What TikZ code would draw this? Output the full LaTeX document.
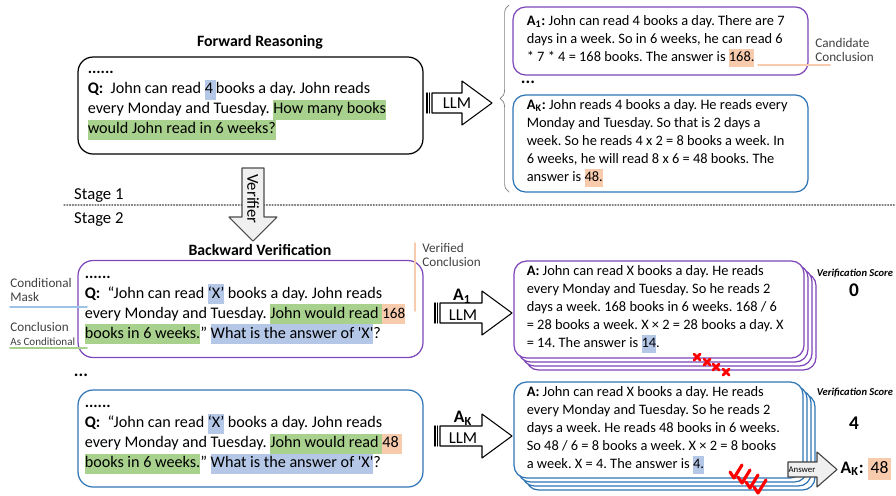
\documentclass[tikz,border=0pt]{standalone}
\usepackage{fontspec}
\setmainfont{Carlito}
\usetikzlibrary{calc,decorations.pathreplacing}
\definecolor{bvpurple}{RGB}{125,70,185}
\definecolor{bvblue}{RGB}{46,117,182}
\definecolor{hlgreen}{RGB}{169,209,142}
\definecolor{hlblue}{RGB}{180,199,231}
\definecolor{hlorange}{RGB}{248,203,173}
\definecolor{lineblue}{RGB}{157,195,230}
\definecolor{lblgray}{RGB}{64,64,64}
\newcommand{\hl}[2]{{\setlength{\fboxsep}{0pt}\colorbox{#1}{\strut #2}}}
\frenchspacing
\tikzset{
  qbox/.style={draw,rounded corners=0.3cm,line width=0.7pt,minimum width=6.9cm,minimum height=1.94cm,inner sep=0pt},
  abox/.style={draw,rounded corners=0.25cm,line width=0.7pt,fill=white,minimum width=5.9cm,inner sep=0pt},
  sbox/.style={abox,minimum width=5.8cm,minimum height=1.94cm},
  qtxt/.style={anchor=west,align=left,inner sep=0pt,font={\frenchspacing\fontsize{9.2}{11.4}\selectfont}},
  atxt/.style={anchor=west,align=left,inner sep=0pt,font={\frenchspacing\fontsize{8.2}{10.2}\selectfont}},
  heading/.style={font={\bfseries\fontsize{9}{11}\selectfont}},
  stage/.style={font={\fontsize{9.5}{11}\selectfont}},
  lbl/.style={text=lblgray,align=left,inner sep=0pt,font={\fontsize{7.5}{8}\selectfont}},
  vscore/.style={font={\bfseries\itshape\fontsize{6}{7}\selectfont}},
  arrtxt/.style={font={\fontsize{9.5}{11}\selectfont}},
  pics/llmarrow/.style={code={
    \draw[line width=0.8pt] (0,-10) -- (0,10) (2.5,-10) -- (2.5,10);
    \draw[fill=white,line width=0.6pt] (5,-10) -- (#1-30,-10) -- (#1-30,-22) -- (#1,0)
      -- (#1-30,22) -- (#1-30,10) -- (5,10) -- cycle;
  }},
}
\begin{document}
\begin{tikzpicture}[x=0.02cm,y=-0.02cm,line join=round,line cap=round]
\useasboundingbox (0,0) rectangle (896,495);
% Stage 1: forward reasoning
\node[heading] (fwdtitle) at (260,42) {Forward Reasoning};
\node[qbox] (fwdq) at (250.5,105.5) {};
\node[qtxt] (fwdqtxt) at ($(fwdq.west)+(10,0)$) {\textbf{......}\\
  \textbf{Q:}\ \ John can read \hl{hlblue}{4\,}books a day. John reads\\
  every Monday and Tuesday. \hl{hlgreen}{How many books}\\
  \hl{hlgreen}{would John read in 6 weeks?}};
\pic at (427,103) {llmarrow=65};
\node[arrtxt] (llmtop) at (457,103) {LLM};
\draw[gray,decorate,decoration={brace,amplitude=5pt}] (509,192) -- (509,5);
\node[abox,draw=bvpurple,minimum height=1.36cm] (ans1) at (660.5,41) {};
\node[atxt] (ans1txt) at ($(ans1.west)+(14,0)$) {\textbf{A\textsubscript{1}:} John can read 4 books a day. There are 7\\
  days in a week. So in 6 weeks, he can read 6\\{}* 7 * 4 = 168 books. The answer is \hl{hlorange}{168.}};
\node[font=\bfseries] (ansdots) at (528,82) {...};
\node[abox,draw=bvblue,minimum height=1.94cm] (ansk) at (660.5,143.5) {};
\node[atxt] (anskttxt) at ($(ansk.west)+(14,0)$) {\textbf{A\textsubscript{K}:} John reads 4 books a day. He reads every\\
  Monday and Tuesday. So that is 2 days a\\
  week. So he reads 4 x 2 = 8 books a week. In\\
  6 weeks, he will read 8 x 6 = 48 books. The\\
  answer is \hl{hlorange}{48.}};
\node[lbl,anchor=west] (candlbl) at (815,50) {Candidate\\Conclusion};
\coordinate (cand1) at (758,65);
\coordinate (cand2) at (830,65);
\draw[hlorange,line width=1pt] (cand1) -- (cand2);
% stage separator
\draw[densely dotted,gray,line width=0.6pt] (64,205) -- (896,205);
\node[stage,anchor=west] (st1) at (68,196) {Stage 1};
\node[stage,anchor=west] (st2) at (68,220) {Stage 2};
\draw[fill=gray!12,draw=gray!60!black,line width=0.6pt] (242,168) -- (264,168) -- (264,217) -- (277,217)
  -- (253,241) -- (229,217) -- (242,217) -- cycle;
\node[arrtxt,rotate=-90] (verlbl) at (253,199) {Verifier};
% Stage 2: backward verification
\node[heading] (bwdtitle) at (260,250) {Backward Verification};
\node[qbox,draw=bvpurple] (bwq1) at (250.5,309) {};
\node[qtxt] (bwq1txt) at ($(bwq1.west)+(7,1)$) {\textbf{......}\\
  \textbf{Q:}\ \ “John can read \hl{hlblue}{‘X’} books a day. John reads\\
  every Monday and Tuesday. \hl{hlgreen}{John would read }\hl{hlorange}{\fontsize{8.6}{11.4}\selectfont 168}\\
  \hl{hlgreen}{books in 6 weeks.}” \hl{hlblue}{What is the answer of \textquotesingle X\textquotesingle}?};
\node[font=\bfseries] (bwdots) at (81,375) {...};
\node[qbox,draw=bvblue] (bwqk) at (250.5,438.5) {};
\node[qtxt] (bwqktxt) at ($(bwqk.west)+(7,1)$) {\textbf{......}\\
  \textbf{Q:}\ \ “John can read \hl{hlblue}{‘X’} books a day. John reads\\
  every Monday and Tuesday. \hl{hlgreen}{John would read }\hl{hlorange}{48\ }\\
  \hl{hlgreen}{books in 6 weeks.}” \hl{hlblue}{What is the answer of \textquotesingle X\textquotesingle}?};
% side labels
\node[lbl,anchor=south west] (masklbl) at (10,302) {Conditional\\Mask};
\coordinate (mask1) at (10,307);
\coordinate (mask2) at (87,307);
\draw[lineblue,line width=1pt] (mask1) -- (mask2);
\node[lbl,anchor=south west] (concllbl) at (10,346) {Conclusion\\{\fontsize{6.3}{7}\selectfont As Conditional}};
\coordinate (concl1) at (10,348);
\coordinate (concl2) at (87,348);
\draw[hlgreen,line width=1pt] (concl1) -- (concl2);
\node[lbl,anchor=west] (verlbl2) at (422,255) {Verified\\Conclusion};
\coordinate (ver1) at (415,243);
\coordinate (ver2) at (415,311);
\draw[hlorange,line width=1pt] (ver1) -- (ver2);
% verification with LLM
\pic at (435,313) {llmarrow=77};
\node[arrtxt] (llm1) at (463,315) {LLM};
\node[font={\bfseries\fontsize{10}{12}\selectfont}] (a1lbl) at (462,296) {A\textsubscript{1}};
\pic at (435,436) {llmarrow=77};
\node[arrtxt] (llmk) at (463,438) {LLM};
\node[font={\bfseries\fontsize{10}{12}\selectfont}] (aklbl) at (463,418) {A\textsubscript{K}};
\foreach \d in {3,2,1}
  \draw[bvpurple,line width=0.7pt,fill=white,rounded corners=0.25cm] (514+4*\d,261+4*\d) rectangle ++(290,97);
\node[sbox,draw=bvpurple] (ver1box) at (659,309.5) {};
\node[atxt] (ver1txt) at ($(ver1box.west)+(13,0)$) {\textbf{A:} John can read X books a day. He reads\\
  every Monday and Tuesday. So he reads 2\\
  days a week. 168 books in 6 weeks. 168 / 6\\
  = 28 books a week. X × 2 = 28 books a day. X\\
  = 14. The answer is \hl{hlblue}{14}.};
\foreach \d in {3,2,1}
  \draw[bvblue,line width=0.7pt,fill=white,rounded corners=0.25cm] (514+4*\d,382+4*\d) rectangle ++(289,96);
\node[sbox,draw=bvblue,minimum width=5.78cm,minimum height=1.92cm] (verkbox) at (658.5,430) {};
\node[atxt] (verktxt) at ($(verkbox.west)+(13,0)$) {\textbf{A:} John can read X books a day. He reads\\
  every Monday and Tuesday. So he reads 2\\
  days a week. He reads 48 books in 6 weeks.\\
  So 48 / 6 = 8 books a week. X × 2 = 8 books\\
  a week. X = 4. The answer is \hl{hlblue}{4.}};
% scores
\node[vscore] (vs1) at (855,273) {Verification Score};
\node[font={\bfseries\fontsize{11}{13}\selectfont}] (sc1) at (854,290) {0};
\node[vscore] (vsk) at (855,392) {Verification Score};
\node[font={\bfseries\fontsize{11}{13}\selectfont}] (sck) at (854,423) {4};
\foreach \cx/\cy in {697/357,707/362,716/367,726/372}
  \draw[red,line width=1.6pt] (\cx-3,\cy-3) -- (\cx+3,\cy+3) (\cx-3,\cy+3) -- (\cx+3,\cy-3);
\foreach \cx/\cy in {734/478,742/483,750/488,758/493}
  \draw[red,line width=1.8pt] (\cx-4,\cy-6) -- (\cx,\cy) -- (\cx+8,\cy-13);
\draw[fill=gray!12,draw=gray!50!black,line width=0.6pt] (788,462) -- (817,462) -- (817,452) -- (837,469.5)
  -- (817,487) -- (817,477) -- (788,477) -- cycle;
\node[font={\fontsize{5}{6}\selectfont}] (anslbl) at (802,470) {Answer};
\node[font={\fontsize{10}{12}\selectfont}] (final) at (866,469) {\textbf{A\textsubscript{K}:} \hl{hlorange}{\,48\,}};
\end{tikzpicture}
\end{document}
